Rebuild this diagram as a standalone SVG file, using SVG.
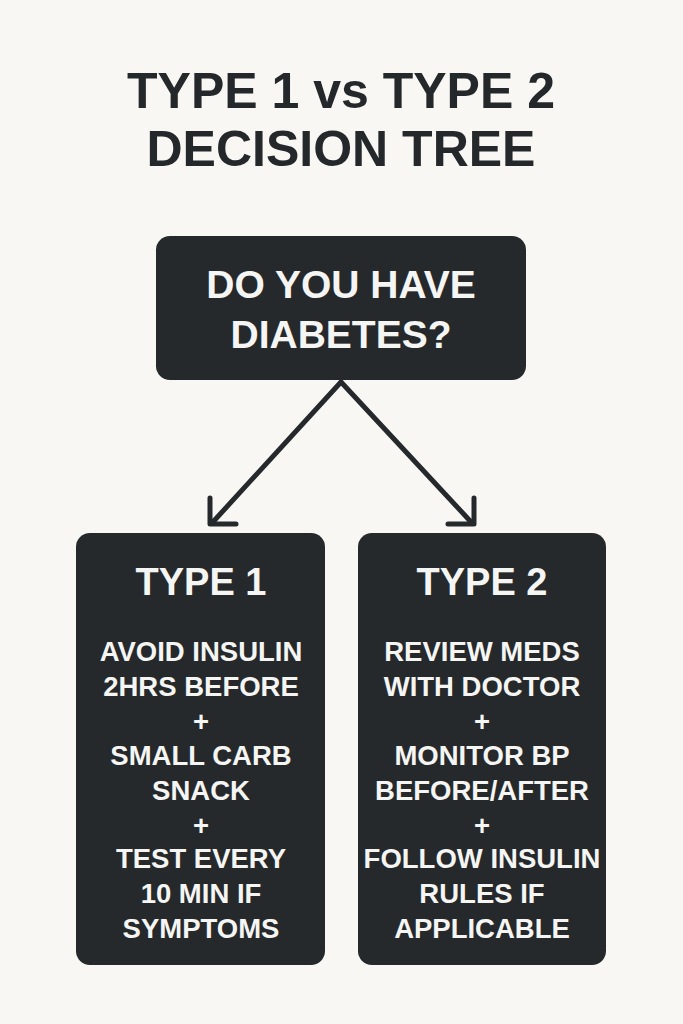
<svg xmlns="http://www.w3.org/2000/svg" width="683" height="1024" viewBox="0 0 683 1024">
<defs>
<style>
.title{font-family:"Liberation Sans",Arial,sans-serif;font-weight:bold;font-size:50px;fill:#25282b;text-anchor:middle}
.box{fill:#25292c}
.q{font-family:"Liberation Sans",Arial,sans-serif;font-weight:bold;font-size:39px;fill:#f5f5f3;text-anchor:middle}
.h{font-family:"Liberation Sans",Arial,sans-serif;font-weight:bold;font-size:38px;fill:#f5f5f3;text-anchor:middle}
.b{font-family:"Liberation Sans",Arial,sans-serif;font-weight:bold;font-size:27.5px;fill:#f5f5f3;text-anchor:middle}
.conn{stroke:#25292c;stroke-width:5;fill:none;stroke-linecap:round;stroke-linejoin:round}
</style>
</defs>
<rect width="683" height="1024" fill="#f8f7f3"/>
<g id="title">
<text class="title" x="341" y="108">TYPE 1 vs TYPE 2</text>
<text class="title" x="341" y="166">DECISION TREE</text>
</g>
<g id="connectors">
<path class="conn" d="M341 382 L212 523"/>
<path class="conn" d="M210 498 L210 524 L236 524"/>
<path class="conn" d="M341 382 L472 523"/>
<path class="conn" d="M474 498 L474 524 L448 524"/>
</g>
<g id="question">
<rect class="box" x="156" y="236" width="370" height="144" rx="14"/>
<text class="q" x="341" y="298">DO YOU HAVE</text>
<text class="q" x="341" y="348">DIABETES?</text>
</g>
<g id="type1">
<rect class="box" x="76" y="533" width="249" height="432" rx="14"/>
<text class="h" x="201" y="595">TYPE 1</text>
<text class="b" x="201" y="661">AVOID INSULIN</text>
<text class="b" x="201" y="696">2HRS BEFORE</text>
<text class="b" x="201" y="731">+</text>
<text class="b" x="201" y="765">SMALL CARB</text>
<text class="b" x="201" y="800">SNACK</text>
<text class="b" x="201" y="835">+</text>
<text class="b" x="201" y="868">TEST EVERY</text>
<text class="b" x="201" y="903">10 MIN IF</text>
<text class="b" x="201" y="938">SYMPTOMS</text>
</g>
<g id="type2">
<rect class="box" x="358" y="533" width="248" height="432" rx="14"/>
<text class="h" x="482" y="595">TYPE 2</text>
<text class="b" x="482" y="661">REVIEW MEDS</text>
<text class="b" x="482" y="696">WITH DOCTOR</text>
<text class="b" x="482" y="731">+</text>
<text class="b" x="482" y="765">MONITOR BP</text>
<text class="b" x="482" y="800">BEFORE/AFTER</text>
<text class="b" x="482" y="835">+</text>
<text class="b" x="482" y="868">FOLLOW INSULIN</text>
<text class="b" x="482" y="903">RULES IF</text>
<text class="b" x="482" y="938">APPLICABLE</text>
</g>
</svg>
